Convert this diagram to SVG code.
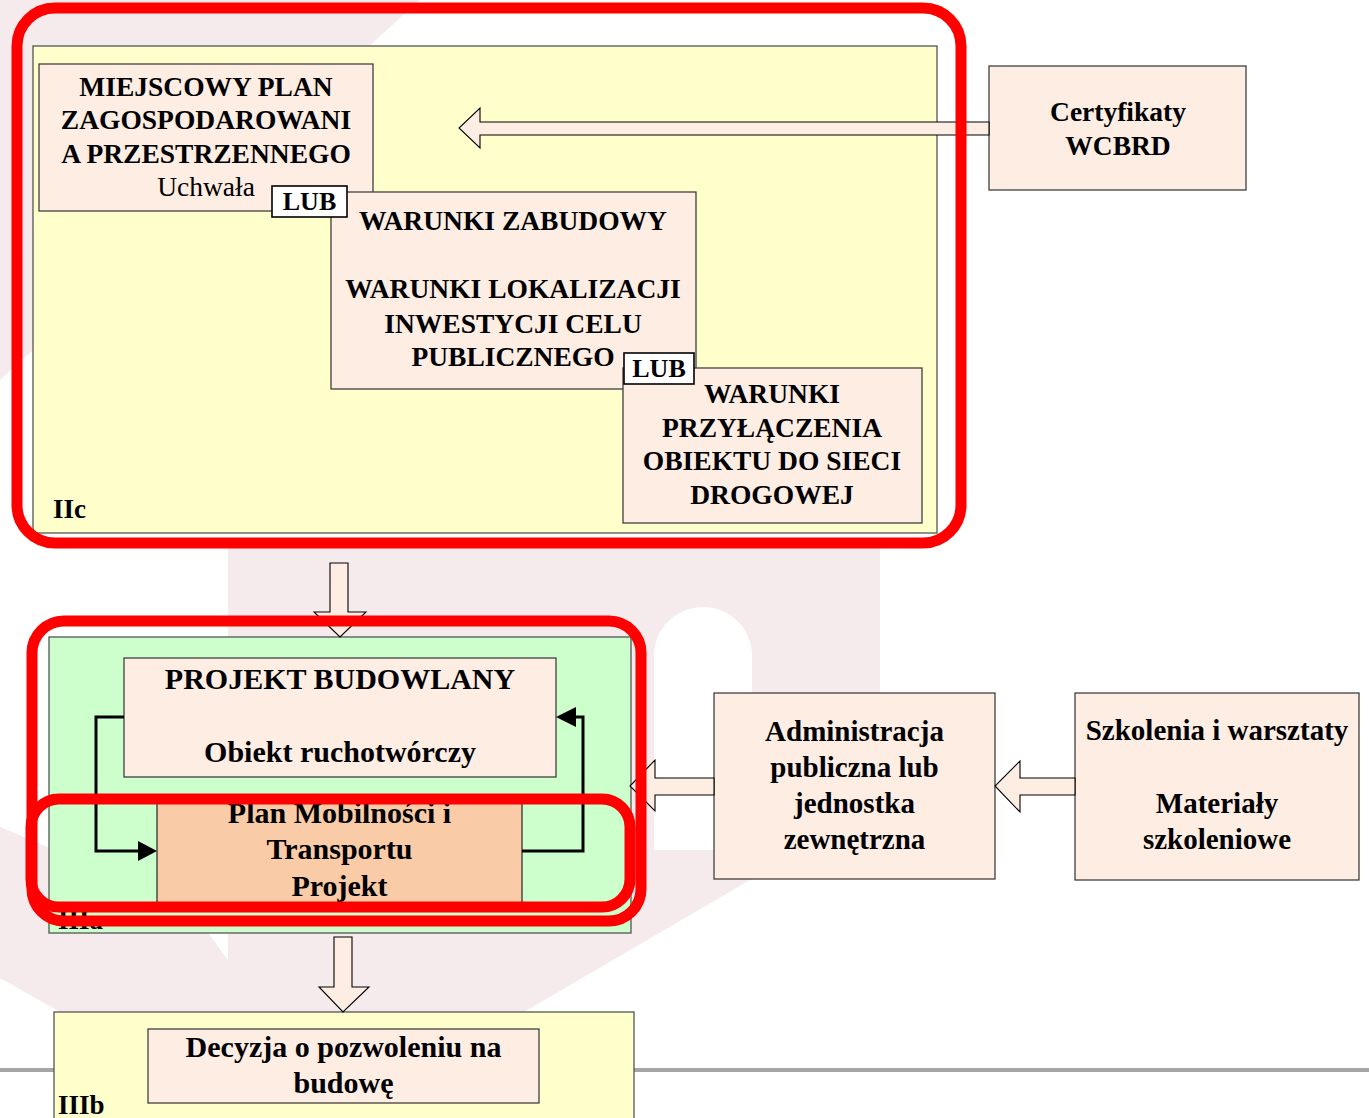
<svg xmlns="http://www.w3.org/2000/svg" width="1369" height="1118" viewBox="0 0 1369 1118">
<style>
.box{fill:#fdede3;stroke:#404040;stroke-width:1.3}
.yel{fill:#ffffcc;stroke:#555;stroke-width:1.3}
.grn{fill:#ccffcc;stroke:#555;stroke-width:1.3}
.lub{fill:#ffffff;stroke:#000;stroke-width:1.6}
.blk{fill:#fdede3;stroke:#000;stroke-width:1.1}
.red{fill:none;stroke:#ff0000;stroke-width:11}
.wm{fill:#f5ebed}
text{font-family:"Liberation Serif","Times New Roman",serif;font-weight:bold;fill:#000;text-anchor:middle}
.t27{font-size:27.5px}
.t26{font-size:26px}
.t29{font-size:29px}
.t30{font-size:30px}
.lbl{font-size:27px;text-anchor:start}
.reg{font-weight:normal}
.conn{fill:none;stroke:#000;stroke-width:3}
</style>

<g id="watermark">
<polygon class="wm" points="0,0 420,0 0,380"/>
<path class="wm" d="M228,548 L880,548 L880,850 L750,880 L524,1012 L60,1012 L0,978 L0,827 L188,905 L228,960 Z"/>
<path fill="#ffffff" d="M654,850 L654,656 A49,49 0 0 1 752,656 L752,850 Z"/>
</g>

<line id="baseline" x1="0" y1="1070" x2="1369" y2="1070" stroke="#a6a6a6" stroke-width="4"/>

<g id="stage-IIc">
<rect class="yel" x="33" y="46" width="904" height="487"/>
<text class="lbl" x="53" y="518">IIc</text>
</g>

<g id="node-mpzp">
<rect class="box" x="39" y="64" width="334" height="147"/>
<text class="t27" x="206" y="96">MIEJSCOWY PLAN</text>
<text class="t27" x="206" y="129">ZAGOSPODAROWANI</text>
<text class="t27" x="206" y="163">A PRZESTRZENNEGO</text>
<text class="t27 reg" x="206" y="196">Uchwała</text>
</g>

<g id="node-wz">
<rect class="box" x="331" y="192" width="365" height="197"/>
<text class="t27" x="513" y="230">WARUNKI ZABUDOWY</text>
<text class="t27" x="513" y="298">WARUNKI LOKALIZACJI</text>
<text class="t27" x="513" y="333">INWESTYCJI CELU</text>
<text class="t27" x="513" y="366">PUBLICZNEGO</text>
</g>

<g id="node-wp">
<rect class="box" x="623" y="368" width="299" height="155"/>
<text class="t27" x="772" y="403">WARUNKI</text>
<text class="t27" x="772" y="437">PRZYŁĄCZENIA</text>
<text class="t27" x="772" y="470">OBIEKTU DO SIECI</text>
<text class="t27" x="772" y="504">DROGOWEJ</text>
</g>

<g id="lub-1">
<rect class="lub" x="272" y="186" width="75" height="31"/>
<text class="t26" x="309.5" y="210">LUB</text>
</g>
<g id="lub-2">
<rect class="lub" x="624" y="353" width="70" height="31"/>
<text class="t26" x="659" y="377">LUB</text>
</g>

<g id="node-cert">
<rect class="box" x="989" y="66" width="257" height="124"/>
<text class="t27" x="1118" y="121">Certyfikaty</text>
<text class="t27" x="1118" y="155">WCBRD</text>
</g>

<g id="stage-IIIa">
<rect class="grn" x="49" y="637" width="582" height="296"/>
<text class="lbl" x="58" y="929">IIIa</text>
</g>

<g id="node-pb">
<rect class="box" x="124" y="658" width="432" height="119"/>
<text class="t30" x="340" y="689">PROJEKT BUDOWLANY</text>
<text class="t30" x="340" y="762">Obiekt ruchotwórczy</text>
</g>

<g id="node-pmt">
<rect x="157" y="795" width="365" height="110" fill="#f9cba6" stroke="#333" stroke-width="1.3"/>
<text class="t30" x="339.5" y="823">Plan Mobilności i</text>
<text class="t30" x="339.5" y="859">Transportu</text>
<text class="t30" x="339.5" y="896">Projekt</text>
</g>

<g id="node-admin">
<rect class="box" x="714" y="693" width="281" height="186"/>
<text class="t29" x="854.5" y="741">Administracja</text>
<text class="t29" x="854.5" y="777">publiczna lub</text>
<text class="t29" x="854.5" y="813">jednostka</text>
<text class="t29" x="854.5" y="849">zewnętrzna</text>
</g>

<g id="node-szk">
<rect class="box" x="1075" y="693" width="284" height="187"/>
<text class="t29" x="1217" y="740">Szkolenia i warsztaty</text>
<text class="t29" x="1217" y="813">Materiały</text>
<text class="t29" x="1217" y="849">szkoleniowe</text>
</g>

<g id="stage-IIIb">
<rect class="yel" x="54" y="1012" width="580" height="120"/>
<text class="lbl" x="58" y="1114">IIIb</text>
</g>

<g id="node-decyzja">
<rect class="box" x="148" y="1029" width="391" height="74"/>
<text class="t30" x="343.5" y="1057">Decyzja o pozwoleniu na</text>
<text class="t30" x="343.5" y="1093">budowę</text>
</g>

<g id="connectors">
<polygon class="blk" points="989,122 480,122 480,108 459,128 480,148 480,135 989,135"/>
<polygon class="blk" points="330,563 348,563 348,612 366,612 340,637 314,612 330,612"/>
<polygon class="blk" points="334,937 352,937 352,987 369,987 343,1012 319,987 334,987"/>
<polygon class="blk" points="714,778 655,778 655,760 630,786 655,811 655,795 714,795"/>
<polygon class="blk" points="1075,778 1020,778 1020,761 995,786 1020,812 1020,795 1075,795"/>
<polyline class="conn" points="124,717 96,717 96,851 140,851"/>
<polygon points="157,851 138,841 138,861" fill="#000"/>
<polyline class="conn" points="522,851 583,851 583,717 574,717"/>
<polygon points="556,717 576,707 576,727" fill="#000"/>
</g>

<g id="highlights">
<rect class="red" x="17" y="8" width="944" height="535" rx="38"/>
<rect class="red" x="32" y="621" width="609" height="300" rx="32"/>
<rect class="red" x="31" y="799" width="599" height="108" rx="28"/>
</g>
</svg>
